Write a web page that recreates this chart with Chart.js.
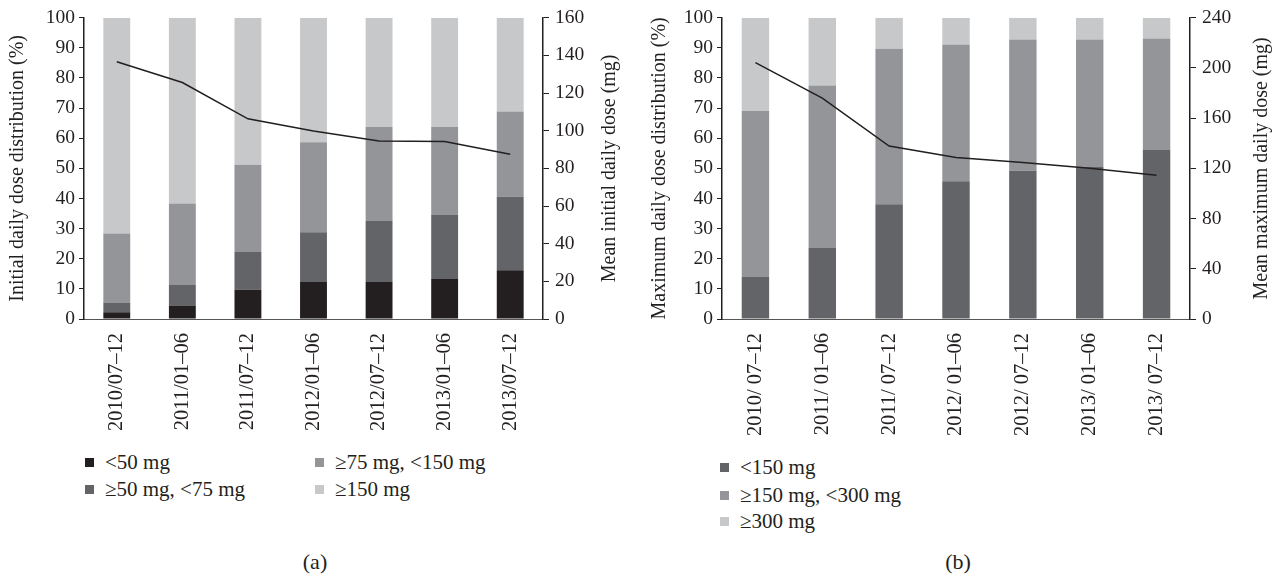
<!DOCTYPE html>
<html>
<head>
<meta charset="utf-8">
<script src="https://cdn.jsdelivr.net/npm/chart.js@4.4.0/dist/chart.umd.min.js"></script>
<style>
  html, body { margin: 0; padding: 0; background: #fff; }
  #wrap { position: relative; width: 1278px; height: 578px; overflow: hidden; font-family: "Liberation Serif", "DejaVu Serif", serif; color: #231f20; }
  .cv { position: absolute; top: 0; }
  .leg { position: absolute; font-size: 21px; line-height: 22px; white-space: nowrap; }
  .leg .box { display: inline-block; width: 9px; height: 9px; margin-right: 11px; vertical-align: 2px; }
  .cap { position: absolute; font-size: 22px; transform: translateX(-50%); }
</style>
</head>
<body>
<div id="wrap">
  <div class="cv" style="left:0;width:640px;height:440px;"><canvas id="ca"></canvas></div>
  <div class="cv" style="left:640px;width:638px;height:440px;"><canvas id="cb"></canvas></div>

  <div class="leg" style="left:85px;top:451px;"><span class="box" style="background:#231f20"></span>&lt;50 mg</div>
  <div class="leg" style="left:85px;top:478px;"><span class="box" style="background:#636467"></span>≥50 mg, &lt;75 mg</div>
  <div class="leg" style="left:315px;top:451px;"><span class="box" style="background:#939598"></span>≥75 mg, &lt;150 mg</div>
  <div class="leg" style="left:315px;top:478px;"><span class="box" style="background:#c7c8ca"></span>≥150 mg</div>

  <div class="leg" style="left:720px;top:456px;"><span class="box" style="background:#636467"></span>&lt;150 mg</div>
  <div class="leg" style="left:720px;top:484px;"><span class="box" style="background:#939598"></span>≥150 mg, &lt;300 mg</div>
  <div class="leg" style="left:720px;top:510px;"><span class="box" style="background:#c7c8ca"></span>≥300 mg</div>

  <div class="cap" style="left:315px;top:549px;">(a)</div>
  <div class="cap" style="left:958px;top:549px;">(b)</div>
</div>
<script>
// ---- Data ----
const labelsA = ['2010/07–12','2011/01–06','2011/07–12','2012/01–06','2012/07–12','2013/01–06','2013/07–12'];
const labelsB = ['2010/ 07–12','2011/ 01–06','2011/ 07–12','2012/ 01–06','2012/ 07–12','2013/ 01–06','2013/ 07–12'];

// (a) initial daily dose distribution (%)
const aLt50    = [2.2, 4.5, 9.7, 12.3, 12.3, 13.3, 16.2];
const a50to75  = [3.3, 6.8, 12.5, 16.5, 20.4, 21.4, 24.4];
const a75to150 = [22.9, 27.0, 29.0, 29.9, 31.0, 29.0, 28.3];
const aGe150   = [71.6, 61.7, 48.8, 41.3, 36.3, 36.3, 31.1];
const aMean    = [136.6, 125.6, 106.3, 99.8, 94.5, 94.3, 87.5];

// (b) maximum daily dose distribution (%)
const bLt150    = [14.1, 23.6, 38.1, 45.7, 49.2, 50.6, 56.1];
const b150to300 = [54.9, 53.9, 51.6, 45.4, 43.6, 42.2, 37.0];
const bGe300    = [31.0, 22.5, 10.3, 8.9, 7.2, 7.2, 6.9];
const bMean     = [204.2, 176.0, 137.8, 128.6, 124.6, 120.1, 114.6];

const C_BLACK = '#231f20', C_DARK = '#636467', C_MID = '#939598', C_LIGHT = '#c7c8ca';
const FAM = '"Liberation Serif", "DejaVu Serif", serif';
const FONT = { family: FAM, size: 19.5 };
const XFONT = { family: FAM, size: 20.5 };

const axisTitles = {
  id: 'axisTitles',
  afterDraw(chart, args, opts) {
    const ctx = chart.ctx, a = chart.chartArea;
    const cy = (a.top + a.bottom) / 2;
    (opts.items || []).forEach(it => {
      ctx.save();
      ctx.translate(it.x, cy);
      ctx.rotate(-Math.PI / 2);
      ctx.font = '20px ' + FAM;
      ctx.fillStyle = C_BLACK;
      ctx.textAlign = 'center';
      ctx.textBaseline = 'middle';
      ctx.fillText(it.text, 0, 0);
      ctx.restore();
    });
  }
};

function bar(label, data, color) {
  return { type: 'bar', label, data, backgroundColor: color, borderWidth: 0,
           yAxisID: 'y', stack: 's', order: 2, barPercentage: 0.41, categoryPercentage: 1.0 };
}

function makeChart(id, labels, bars, mean, y1Max, y1Step, leftW, rightW, titles) {
  return new Chart(document.getElementById(id), {
    data: {
      labels,
      datasets: [
        ...bars,
        { type: 'line', label: 'mean', data: mean, yAxisID: 'y1', borderColor: C_BLACK,
          borderWidth: 1.5, pointRadius: 0, tension: 0, order: 0, fill: false }
      ]
    },
    options: {
      responsive: true, maintainAspectRatio: false, animation: false,
      layout: { padding: { top: 16, left: 0, right: 0, bottom: 0 } },
      plugins: { legend: { display: false }, tooltip: { enabled: false }, axisTitles: { items: titles } },
      scales: {
        x: {
          stacked: true,
          grid: { display: false },
          border: { display: true, color: '#555', width: 1 },
          ticks: { color: C_BLACK, font: XFONT, minRotation: 90, maxRotation: 90, autoSkip: false, padding: 6 },
          afterFit(s) { s.height = 121; }
        },
        y: {
          stacked: true, position: 'left', min: 0, max: 100,
          ticks: { stepSize: 10, color: C_BLACK, font: FONT, padding: 4 },
          grid: { display: true, drawOnChartArea: false, drawTicks: true, tickLength: 5, color: C_BLACK, lineWidth: 1 },
          border: { display: true, color: C_BLACK, width: 1.5 },
          afterFit(s) { s.width = leftW; }
        },
        y1: {
          position: 'right', min: 0, max: y1Max,
          ticks: { stepSize: y1Step, color: C_BLACK, font: FONT, padding: 6 },
          grid: { display: true, drawOnChartArea: false, drawTicks: true, tickLength: 6, color: C_BLACK, lineWidth: 1 },
          border: { display: true, color: C_BLACK, width: 1.5 },
          afterFit(s) { s.width = rightW; }
        }
      }
    },
    plugins: [axisTitles]
  });
}

makeChart('ca', labelsA,
  [bar('<50 mg', aLt50, C_BLACK), bar('≥50 mg, <75 mg', a50to75, C_DARK),
   bar('≥75 mg, <150 mg', a75to150, C_MID), bar('≥150 mg', aGe150, C_LIGHT)],
  aMean, 160, 20, 84, 97,
  [{ x: 18, text: 'Initial daily dose distribution (%)' }, { x: 610, text: 'Mean initial daily dose (mg)' }]);

makeChart('cb', labelsB,
  [bar('<150 mg', bLt150, C_DARK), bar('≥150 mg, <300 mg', b150to300, C_MID), bar('≥300 mg', bGe300, C_LIGHT)],
  bMean, 240, 40, 82, 88,
  [{ x: 20, text: 'Maximum daily dose distribution (%)' }, { x: 622, text: 'Mean maximum daily dose (mg)' }]);
</script>
</body>
</html>
